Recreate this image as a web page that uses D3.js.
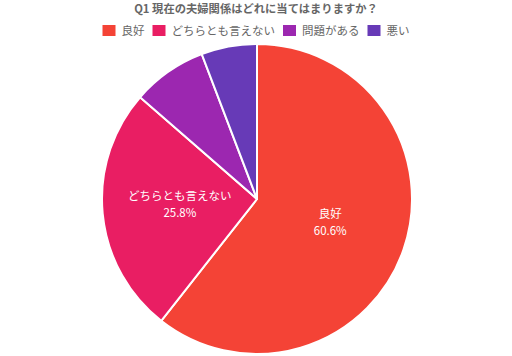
<!DOCTYPE html>
<html><head><meta charset="utf-8">
<script src="https://cdn.jsdelivr.net/npm/d3@7"></script>
<style>
html,body{margin:0;padding:0;background:#fff;}
svg{display:block;font-family:"Noto Sans CJK JP","Noto Sans",sans-serif;}
</style></head>
<body><svg id="c" width="512" height="356"></svg>
<script>
const title = "Q1 現在の夫婦関係はどれに当てはまりますか？";
const categories = ["良好","どちらとも言えない","問題がある","悪い"];
const values = [60.6, 25.8, 7.8, 5.8];
const colors = ["#F44336","#E91E63","#9C27B0","#673AB7"];
const showLabel = [true, true, false, false];

const svg = d3.select("#c");
const W = 512;
const cx = 257, cy = 199, R = 155;

svg.append("text").attr("x", 256).attr("y", 13).attr("text-anchor","middle")
  .attr("font-size", 11.3).attr("font-weight","bold").attr("fill","#666").text(title);

// legend
const lg = svg.append("g");
let x = 0;
categories.forEach((c,i)=>{
  const g = lg.append("g");
  g.append("rect").attr("x", x).attr("y", 25).attr("width", 13).attr("height", 11)
    .attr("fill", colors[i]);
  const t = g.append("text").attr("x", x+19).attr("y", 35).attr("font-size", 11.5)
    .attr("fill","#666").text(c);
  const w = t.node().getComputedTextLength();
  x += 19 + w + 8;
});
const totalW = x - 8;
lg.attr("transform", `translate(${(W-totalW)/2},0)`);

const pie = d3.pie().sort(null).value(d=>d);
const arcs = pie(values);
const arc = d3.arc().innerRadius(0).outerRadius(R);
const labelArc = d3.arc().innerRadius(R*0.5).outerRadius(R*0.5);
const g = svg.append("g").attr("transform", `translate(${cx},${cy})`);
g.selectAll("path").data(arcs).join("path")
  .attr("d", arc).attr("fill",(d,i)=>colors[i])
  .attr("stroke","#fff").attr("stroke-width",2).attr("stroke-linejoin","round");
const lbl = arcs.filter((d,i)=>showLabel[i]);
g.selectAll("text.l1").data(lbl).join("text").attr("class","l1")
  .attr("x", d=>labelArc.centroid(d)[0]).attr("y", d=>labelArc.centroid(d)[1]-6)
  .attr("text-anchor","middle").attr("fill","#fff").attr("font-size",11.5)
  .text(d=>categories[d.index]);
g.selectAll("text.l2").data(lbl).join("text").attr("class","l2")
  .attr("x", d=>labelArc.centroid(d)[0]).attr("y", d=>labelArc.centroid(d)[1]+11)
  .attr("text-anchor","middle").attr("fill","#fff").attr("font-size",11.5)
  .text(d=>values[d.index].toFixed(1)+"%");
</script></body></html>
